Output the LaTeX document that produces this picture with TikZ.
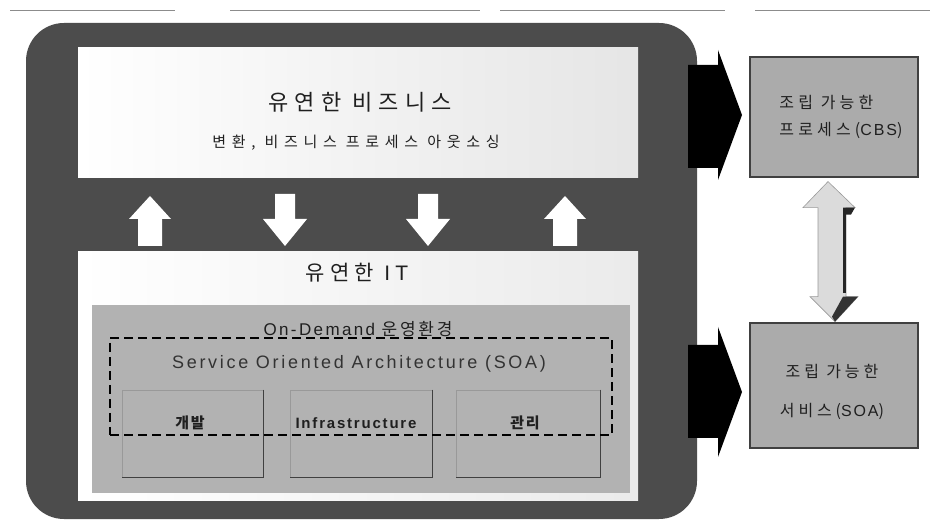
\documentclass[tikz,border=0pt]{standalone}
\usepackage{fontspec}
\usetikzlibrary{calc}
\setmainfont{Noto Sans CJK KR}
\newfontfamily\latinf{Liberation Sans}
\newcommand{\trk}[1]{\addfontfeatures{LetterSpace=#1}}
\tikzset{
  outerc/.style={fill=black!70},
  txt/.style={inner sep=0pt, text=black!88},
  boxw/.style={inner sep=0pt, draw=none},
  colbox/.style={draw=black!40, line width=0.8pt, inner sep=0pt, minimum width=#1, minimum height=87pt},
  rbox/.style={fill=black!33, draw=black!75, line width=1.2pt, inner sep=0pt, minimum width=168pt},
  uparr/.pic={\fill[white] (0,-25) -- (21,-2) -- (12,-2) -- (12,25) -- (-12,25) -- (-12,-2) -- (-21,-2) -- cycle;},
  downarr/.pic={\fill[white] (0,25) -- (22,-2) -- (10,-2) -- (10,-27) -- (-10,-27) -- (-10,-2) -- (-22,-2) -- cycle;},
}
\begin{document}
\begin{tikzpicture}[x=1pt,y=-1pt]
\useasboundingbox (0,0) rectangle (932,526);
\fill[white] (0,0) rectangle (932,526);
% faint scan line at the top
\draw[black!45, line width=0.8pt] (10,10) -- (175,10) (230,10) -- (480,10) (500,10) -- (725,10) (755,10) -- (930,10);

% dark outer frame
\fill[outerc, rounded corners=38pt] (26,23) rectangle (697,519);
% big black arrows to the right
\fill[black] (688,65) -- (718,65) -- (718,50) -- (742,115) -- (718,180) -- (718,168) -- (688,168) -- cycle;
\fill[black] (688,345) -- (718,345) -- (718,327) -- (742,392) -- (718,457) -- (718,438) -- (688,438) -- cycle;

% upper white box
\node[boxw, left color=white, right color=black!10, minimum width=560pt, minimum height=130pt] (biz) at (358,113) {};
\node[txt, font=\fontsize{22}{26}\selectfont\trk{28}] (biztitle) at (360,102) {유연한 비즈니스};
\node[txt, font=\fontsize{15}{18}\selectfont\trk{38}] (bizsub) at (356,143) {변환, 비즈니스 프로세스 아웃소싱};

% white block arrows in the band
\pic at (150,221) {uparr};
\pic at (285,221) {downarr};
\pic at (428,221) {downarr};
\pic at (565,221) {uparr};

% lower white box
\node[boxw, left color=white, right color=black!8, minimum width=560pt, minimum height=248pt] (it) at (358,376) {};
\node[txt, font=\fontsize{21}{24}\selectfont\trk{25}] (ittitle) at (357,273) {유연한 {\latinf\trk{25}IT}};

% gray on-demand box
\node[boxw, fill=black!30, minimum width=538pt, minimum height=188pt] (ondemand) at (361,399) {};
\node[txt, font=\fontsize{17}{20}\selectfont\trk{16}] (odlabel) at (358,329) {{\latinf\trk{14}On-Demand} 운영환경};

% columns
\node[colbox=141pt] (c1) at (192.5,433.5) {};
\node[colbox=142pt] (c2) at (361,433.5) {};
\node[colbox=144pt] (c3) at (528,433.5) {};
\foreach \c in {c1,c2,c3}{
  \draw[black!75, line width=1pt] (\c.north east) -- (\c.south east) -- (\c.south west);
}

% dashed SOA frame
\node[draw=black, line width=2.2pt, dash pattern=on 9pt off 5pt, inner sep=0pt, minimum width=502pt, minimum height=97pt] (soaframe) at (361,386.5) {};
\node[txt, font=\latinf\fontsize{18}{21}\selectfont\trk{15}, text=black!80] (soalabel) at (359,364) {Service Oriented Architecture (SOA)};
\node[txt, font=\bfseries\fontsize{15}{17}\selectfont\trk{12}] (l1) at (190,423) {개발};
\node[txt, font=\latinf\bfseries\fontsize{15}{17}\selectfont\trk{12}] (l2) at (356,423) {Infrastructure};
\node[txt, font=\bfseries\fontsize{15}{17}\selectfont\trk{12}] (l3) at (525,423) {관리};

% right boxes
\node[rbox, minimum height=120pt] (cbs) at (834,117) {};
\node[txt, align=left, font=\fontsize{16}{27}\selectfont\trk{26}] (cbstext) at (841,117) {조립 가능한\\프로세스({\latinf\trk{12}CBS})};
\node[rbox, minimum height=125pt] (soa) at (834,385.5) {};
\node[txt, align=center, font=\fontsize{16}{39}\selectfont\trk{24}] (soatext) at (832,392) {조립 가능한\\서비스({\latinf\trk{12}SOA})};

% double arrow between the right boxes
\coordinate (dtop) at ($(cbs.south)+(-6,4)$);
\fill[black!14, draw=black!40, line width=0.6pt] (dtop) -- ++(27,26) -- ++(-9,0) -- ++(0,89) -- ++(12,0) -- ++(-23,25) coordinate (dbot) -- ++(-25,-25) -- ++(8,0) -- ++(0,-89) -- ++(-15,0) -- cycle;
\draw[black!85, line width=3pt] ($(dtop)+(16.5,28)$) -- ($(dtop)+(16.5,111)$);
\fill[black!85] ($(dtop)+(15,26)$) -- ++(12,0) -- ++(-4,7) -- ++(-8,0) -- cycle;
\fill[black!80] ($(dtop)+(15,115)$) -- ++(15,0) -- (dbot) -- ++(-3,-5) -- cycle;
\end{tikzpicture}
\end{document}
